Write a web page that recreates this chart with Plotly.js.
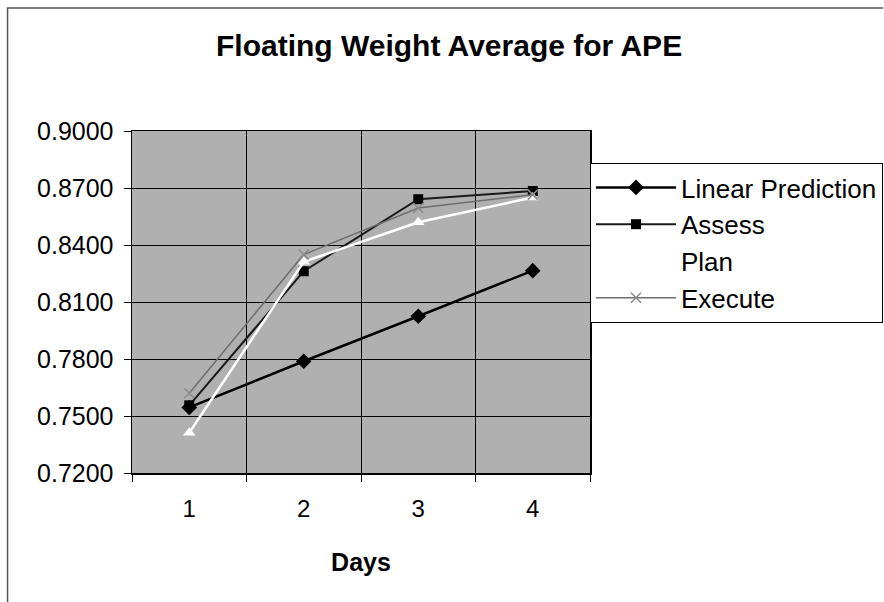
<!DOCTYPE html>
<html>
<head>
<meta charset="utf-8">
<script src="https://cdn.plot.ly/plotly-3.0.1.min.js"></script>
<style>
html,body{margin:0;padding:0;background:#fff;}
#chart{width:884px;height:602px;}
</style>
</head>
<body>
<div id="chart"></div>
<script>
const days = ["1", "2", "3", "4"];
const linearPrediction = [0.7545, 0.7788, 0.8025, 0.8265];
const assess = [0.7556, 0.8262, 0.8641, 0.8684];
const plan = [0.7412, 0.8312, 0.8520, 0.8650];
const execute = [0.7620, 0.8350, 0.8595, 0.8665];
const yTicks = [0.72, 0.75, 0.78, 0.81, 0.84, 0.87, 0.90];

const FONT = "Liberation Sans, Arial, sans-serif";

const traces = [
  {x: days, y: linearPrediction, name: "Linear Prediction", type: "scatter", mode: "lines+markers",
   line: {color: "#000", width: 2.5}, marker: {symbol: "diamond", size: 12, color: "#000"}},
  {x: days, y: assess, name: "Assess", type: "scatter", mode: "lines+markers",
   line: {color: "#1a1a1a", width: 2}, marker: {symbol: "square", size: 10, color: "#000"}},
  {x: days, y: plan, name: "Plan", type: "scatter", mode: "lines+markers",
   line: {color: "#fff", width: 2.5}, marker: {symbol: "triangle-up", size: 11, color: "#fff"}},
  {x: days, y: execute, name: "Execute", type: "scatter", mode: "lines+markers",
   line: {color: "#6e6e6e", width: 1.5}, marker: {symbol: "x-thin-open", size: 10, color: "#8a8a8a", line: {width: 1.5, color: "#8a8a8a"}}}
];

const layout = {
  width: 884, height: 602,
  margin: {l: 132, r: 292, t: 131, b: 129},
  paper_bgcolor: "#fff",
  plot_bgcolor: "#b0b0b0",
  font: {family: FONT, color: "#000", size: 24},
  title: {text: "<b>Floating Weight Average for APE</b>", x: 0.508, xanchor: "center",
          y: 1 - 45/602, yanchor: "middle", font: {family: FONT, size: 30, color: "#000"}},
  xaxis: {type: "category", range: [-0.5, 3.5], tickson: "boundaries",
          showgrid: true, gridcolor: "#000", gridwidth: 1,
          showline: true, linecolor: "#000", linewidth: 1.5, mirror: true,
          ticks: "outside", ticklen: 7, tickcolor: "#000",
          ticklabelstandoff: 14,
          tickfont: {family: FONT, size: 24, color: "#000"},
          title: {text: "<b>Days</b>", font: {family: FONT, size: 25, color: "#000"}, standoff: 32},
          fixedrange: true},
  yaxis: {range: [0.72, 0.90], tickvals: yTicks, tickformat: ".4f",
          showgrid: true, gridcolor: "#000", gridwidth: 1, zeroline: false,
          showline: true, linecolor: "#000", linewidth: 1.5, mirror: true,
          ticks: "outside", ticklen: 7, tickcolor: "#000",
          ticklabelstandoff: 5,
          tickfont: {family: FONT, size: 25, color: "#000"},
          fixedrange: true},
  legend: {xref: "container", yref: "container", x: 590/884, y: 1 - 163/602,
           xanchor: "left", yanchor: "top",
           bgcolor: "#fff", bordercolor: "#000", borderwidth: 1,
           font: {family: FONT, size: 26, color: "#000"},
           tracegroupgap: 0, itemwidth: 80},
  showlegend: true,
  shapes: [
    {type: "path", xref: "paper", yref: "paper",
     path: "M -0.2717 -0.38 L -0.2717 1.3596 L 1.64 1.3596",
     line: {color: "#555", width: 1.5}}
  ]
};

Plotly.newPlot("chart", traces, layout, {displayModeBar: false, staticPlot: true});
</script>
</body>
</html>
